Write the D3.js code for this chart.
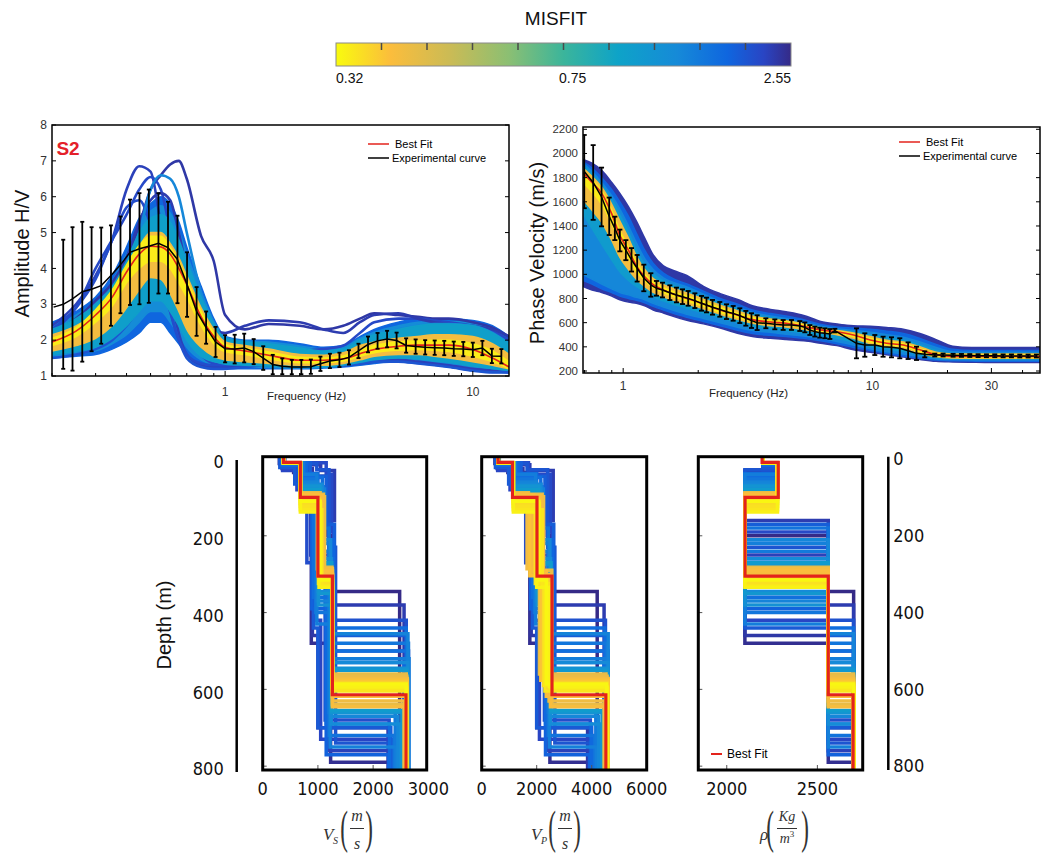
<!DOCTYPE html>
<html>
<head>
<meta charset="utf-8">
<script src="https://cdn.jsdelivr.net/npm/d3@7"></script>
<style>
  body { margin: 0; background: #fff; }
  svg { display: block; font-family: 'Liberation Sans', Arial, sans-serif; }
  .narrow { font-family: 'Liberation Sans Narrow', 'DejaVu Sans Condensed', 'Liberation Sans', sans-serif; }
  .math { font-family: 'Liberation Serif', 'DejaVu Serif', serif; }
</style>
</head>
<body>
<svg id="chart" width="1048" height="861"></svg>
<script>
// ---------------- colour bar ----------------
// misfit position along the colour bar, 0 = best (yellow) .. 1 = worst (dark blue)
const misfitStops = [0, 0.12, 0.25, 0.38, 0.5, 0.62, 0.75, 0.86, 0.94, 1];
const misfitColors = ['#f9fb0e', '#fbbd3c', '#cbbb55', '#8bbf73', '#3bb59b',
  '#0ea3c8', '#168ad8', '#0f66df', '#2945c4', '#352a87'];
const colorbarLabels = ['0.32', '0.75', '2.55'];
const colorbarLabelPos = [0, 0.52, 1];

// ---------------- H/V curve ----------------
const hvExpFreq = [0.203, 0.222, 0.242, 0.265, 0.289, 0.316, 0.346, 0.378, 0.413, 0.451,
  0.492, 0.538, 0.588, 0.642, 0.702, 0.767, 0.838, 0.915, 1.0, 1.093,
  1.194, 1.304, 1.425, 1.557, 1.701, 1.859, 2.031, 2.219, 2.425, 2.649,
  2.894, 3.162, 3.455, 3.775, 4.125, 4.507, 4.924, 5.380, 5.878, 6.422,
  7.017, 7.667, 8.377, 9.153, 10.0, 10.93, 11.94, 13.04];
const hvExpMean = [2.92, 3.0, 3.15, 3.35, 3.42, 3.52, 3.8, 4.1, 4.45, 4.55,
  4.62, 4.7, 4.58, 4.25, 3.55, 2.8, 2.35, 1.95, 1.76, 1.75,
  1.78, 1.68, 1.5, 1.32, 1.27, 1.25, 1.25, 1.26, 1.34, 1.42,
  1.45, 1.52, 1.7, 1.88, 1.98, 2.03, 1.99, 1.85, 1.82, 1.8,
  1.79, 1.78, 1.76, 1.75, 1.73, 1.78, 1.56, 1.55];
const hvExpStd = [0, 1.8, 2.0, 1.95, 1.73, 1.62, 1.4, 1.35, 1.47, 1.55,
  1.58, 1.4, 1.28, 1.22, 0.9, 0.68, 0.45, 0.42, 0.38, 0.4,
  0.4, 0.35, 0.33, 0.27, 0.22, 0.2, 0.2, 0.2, 0.2, 0.2,
  0.2, 0.2, 0.2, 0.22, 0.22, 0.23, 0.22, 0.2, 0.2, 0.2,
  0.2, 0.2, 0.2, 0.2, 0.2, 0.2, 0.2, 0.2];

const hvBandFreq = [0.2, 0.25, 0.3, 0.35, 0.4, 0.45, 0.5, 0.55, 0.6, 0.65,
  0.7, 0.8, 0.9, 1.0, 1.2, 1.5, 2, 2.5, 3, 3.5, 4, 5, 6, 7, 8, 10, 12, 14];
const hvBestFit = [1.95, 2.25, 2.7, 3.2, 3.9, 4.4, 4.62, 4.6, 4.4, 4.0,
  3.55, 2.65, 2.1, 1.8, 1.7, 1.58, 1.44, 1.44, 1.48, 1.62, 1.74, 1.83, 1.86, 1.86, 1.86, 1.74, 1.5, 1.25];
const hvBandMisfit = [0.86, 0.74, 0.64, 0.14, 0.03];
const hvBandUpper = [
  [2.5, 2.8, 3.2, 3.8, 4.6, 5.4, 5.8, 6.0, 5.8, 5.3, 4.6, 3.5, 2.6, 2.1, 2.0, 2.0, 1.9, 1.8, 1.85, 2.1, 2.3, 2.5, 2.6, 2.6, 2.6, 2.55, 2.4, 2.1],
  [2.4, 2.7, 3.1, 3.65, 4.4, 5.2, 5.6, 5.75, 5.55, 5.05, 4.4, 3.35, 2.52, 2.08, 1.98, 1.95, 1.84, 1.75, 1.8, 2.05, 2.22, 2.4, 2.5, 2.52, 2.52, 2.48, 2.3, 2.0],
  [2.3, 2.6, 3.0, 3.5, 4.2, 5.0, 5.4, 5.5, 5.3, 4.8, 4.2, 3.2, 2.45, 2.05, 1.95, 1.9, 1.78, 1.7, 1.75, 2.0, 2.15, 2.3, 2.4, 2.45, 2.45, 2.4, 2.2, 1.9],
  [2.15, 2.4, 2.75, 3.2, 3.9, 4.6, 5.0, 5.0, 4.7, 4.3, 3.8, 2.9, 2.3, 1.95, 1.85, 1.75, 1.6, 1.58, 1.65, 1.85, 1.95, 2.05, 2.1, 2.15, 2.15, 2.1, 1.9, 1.6],
  [2.05, 2.35, 2.85, 3.4, 4.1, 4.65, 4.9, 4.9, 4.6, 4.2, 3.7, 2.8, 2.2, 1.88, 1.78, 1.67, 1.52, 1.5, 1.56, 1.72, 1.85, 1.95, 1.98, 2.0, 2.0, 1.9, 1.7, 1.4]
];
const hvBandLower = [
  [1.5, 1.55, 1.6, 1.75, 1.95, 2.2, 2.5, 2.5, 2.2, 1.9, 1.6, 1.35, 1.25, 1.2, 1.2, 1.2, 1.2, 1.22, 1.25, 1.3, 1.35, 1.4, 1.35, 1.3, 1.25, 1.15, 1.1, 1.1],
  [1.55, 1.62, 1.7, 1.9, 2.15, 2.5, 2.8, 2.8, 2.5, 2.15, 1.8, 1.45, 1.32, 1.27, 1.25, 1.24, 1.22, 1.24, 1.28, 1.34, 1.4, 1.45, 1.42, 1.36, 1.32, 1.22, 1.15, 1.12],
  [1.6, 1.7, 1.8, 2.05, 2.4, 2.8, 3.1, 3.1, 2.8, 2.4, 2.0, 1.55, 1.4, 1.33, 1.3, 1.28, 1.25, 1.26, 1.3, 1.38, 1.45, 1.5, 1.48, 1.42, 1.38, 1.28, 1.2, 1.15],
  [1.7, 1.85, 2.05, 2.4, 2.9, 3.4, 3.75, 3.7, 3.3, 2.8, 2.3, 1.8, 1.55, 1.45, 1.4, 1.35, 1.3, 1.3, 1.35, 1.45, 1.55, 1.6, 1.6, 1.55, 1.5, 1.4, 1.3, 1.2],
  [1.85, 2.1, 2.5, 2.95, 3.6, 4.0, 4.2, 4.2, 4.0, 3.6, 3.2, 2.4, 1.9, 1.68, 1.6, 1.48, 1.37, 1.37, 1.42, 1.55, 1.65, 1.72, 1.74, 1.72, 1.68, 1.55, 1.4, 1.2]
];
// single high-misfit models that stick out of the band
const hvOutlierMisfit = [0.97, 0.95, 0.93, 0.9, 0.96, 0.92, 0.76];
const hvOutliers = [
  [2.2, 2.6, 3.1, 3.6, 4.3, 5.2, 6.2, 6.6, 6.9, 7.0, 6.5, 4.9, 4.2, 2.7, 2.3, 2.45, 2.4, 2.3, 2.4, 2.6, 2.75, 2.7, 2.65, 2.6, 2.6, 2.5, 2.35, 2.1],
  [2.4, 3.0, 3.8, 4.8, 6.2, 6.85, 6.7, 5.2, 3.4, 2.2, 1.6, 1.3, 1.25, 1.25, 1.3, 1.35, 1.35, 1.3, 1.3, 1.35, 1.4, 1.45, 1.4, 1.35, 1.3, 1.2, 1.15, 1.1],
  [2.3, 2.9, 4.0, 4.8, 5.5, 6.2, 6.55, 6.2, 5.0, 3.6, 2.6, 1.6, 1.35, 1.3, 1.4, 1.6, 1.7, 1.75, 1.85, 2.2, 2.5, 2.6, 2.6, 2.55, 2.5, 2.4, 2.25, 2.0],
  [1.5, 1.6, 1.75, 2.0, 2.4, 2.9, 3.3, 3.4, 2.8, 2.0, 1.5, 1.25, 1.2, 1.2, 1.25, 1.3, 1.3, 1.3, 1.3, 1.35, 1.4, 1.4, 1.35, 1.3, 1.25, 1.15, 1.1, 1.1],
  [2.0, 2.4, 2.9, 3.5, 4.3, 5.3, 5.9, 6.1, 5.9, 5.0, 4.0, 2.9, 2.3, 2.2, 2.4, 2.55, 2.5, 2.3, 2.2, 2.5, 2.7, 2.75, 2.6, 2.5, 2.45, 2.4, 2.3, 2.1],
  [2.3, 2.9, 3.7, 4.8, 5.7, 5.9, 5.2, 4.0, 2.8, 2.0, 1.6, 1.35, 1.3, 1.3, 1.35, 1.4, 1.45, 1.5, 1.55, 1.6, 1.7, 1.8, 1.8, 1.7, 1.6, 1.4, 1.25, 1.15],
  [2.0, 2.3, 2.7, 3.3, 4.0, 5.0, 6.2, 6.6, 6.5, 6.0, 5.0, 3.3, 2.2, 1.8, 1.7, 1.7, 1.6, 1.5, 1.6, 1.9, 2.1, 2.3, 2.4, 2.45, 2.45, 2.4, 2.2, 1.9]
];

// ---------------- dispersion curve ----------------
const dcExpFreq = [0.698, 0.758, 0.819, 0.879, 0.926, 0.970, 1.025, 1.080, 1.138, 1.210,
  1.291, 1.360, 1.438, 1.539, 1.636, 1.730, 1.823, 1.939, 2.062, 2.159,
  2.282, 2.441, 2.597, 2.762, 2.937, 3.105, 3.271, 3.447, 3.735, 4.058,
  4.383, 4.733, 5.112, 5.354, 5.608, 5.872, 6.149, 6.440, 6.744, 7.063,
  8.627, 9.318, 10.22, 11.03, 11.92, 12.87, 13.90, 15.02, 16.21, 17.78,
  19.20, 21.06, 22.75, 24.57, 26.53, 28.66, 30.95, 33.43, 36.10, 38.99, 42.11, 45.48];
const dcExpMean = [1850, 1760, 1640, 1480, 1380, 1280, 1200, 1120, 1050, 970,
  912, 884, 870, 848, 829, 815, 801, 782, 760, 746,
  727, 710, 691, 677, 658, 636, 617, 600, 595, 586,
  581, 581, 572, 561, 539, 526, 517, 512, 506, 534,
  429, 415, 415, 401, 396, 388, 368, 346, 338, 332,
  332, 330, 329, 328, 327, 326, 326, 325, 325, 324, 324, 324];
const dcExpStd = [303, 309, 243, 155, 97, 90, 83, 97, 110, 110,
  97, 61, 61, 61, 61, 61, 61, 61, 61, 61,
  61, 61, 61, 61, 61, 61, 61, 61, 41, 41,
  41, 41, 41, 41, 41, 41, 41, 41, 41, 15,
  124, 97, 83, 83, 83, 83, 69, 55, 25, 12,
  12, 12, 12, 12, 12, 12, 12, 12, 12, 12, 12, 12];

const dcBandFreq = [0.69, 0.75, 0.82, 0.9, 0.97, 1.05, 1.13, 1.22, 1.32, 1.45,
  1.6, 1.8, 2.1, 2.45, 2.9, 3.3, 3.9, 4.5, 5.3, 6.2,
  7.2, 8.4, 9.8, 11.4, 13.3, 15.5, 18, 21, 25, 30, 38, 47];
const dcBestFit = [1840, 1760, 1670, 1500, 1320, 1200, 1070, 980, 915, 870,
  835, 800, 755, 705, 660, 625, 605, 595, 570, 540,
  525, 498, 457, 430, 415, 375, 335, 320, 320, 320, 320, 320];
const dcBandMisfit = [0.97, 0.86, 0.76, 0.66, 0.14, 0.03];
const dcBandUpper = [
  [1950, 1920, 1860, 1760, 1670, 1560, 1440, 1300, 1160, 1070, 1030, 990, 900, 840, 790, 740, 710, 690, 660, 610, 590, 575, 570, 560, 545, 510, 460, 405, 395, 395, 395, 395],
  [1930, 1880, 1800, 1700, 1600, 1480, 1340, 1200, 1090, 1010, 960, 920, 860, 800, 750, 705, 675, 655, 625, 585, 565, 555, 545, 530, 510, 470, 420, 380, 370, 370, 370, 370],
  [1920, 1850, 1760, 1650, 1540, 1400, 1260, 1130, 1040, 970, 930, 895, 835, 775, 725, 685, 655, 635, 605, 570, 550, 535, 520, 500, 480, 440, 395, 360, 355, 355, 355, 355],
  [1900, 1830, 1740, 1620, 1490, 1350, 1200, 1080, 1000, 945, 905, 870, 815, 760, 710, 670, 640, 620, 595, 560, 540, 522, 500, 475, 455, 415, 370, 345, 345, 345, 345, 345],
  [1880, 1810, 1720, 1580, 1440, 1300, 1150, 1040, 965, 915, 880, 845, 795, 745, 695, 655, 630, 615, 590, 555, 535, 515, 485, 455, 440, 400, 355, 340, 340, 340, 340, 340],
  [1860, 1780, 1690, 1530, 1360, 1230, 1100, 1000, 935, 890, 855, 820, 775, 725, 675, 640, 620, 607, 580, 548, 530, 505, 470, 442, 425, 385, 345, 330, 330, 330, 330, 330]
];
const dcBandLower = [
  [900, 870, 850, 820, 790, 770, 760, 740, 705, 680, 650, 620, 590, 555, 510, 485, 470, 460, 450, 430, 410, 375, 355, 335, 315, 295, 280, 275, 272, 270, 270, 270],
  [950, 920, 880, 850, 820, 800, 785, 765, 735, 705, 675, 645, 610, 575, 535, 510, 495, 485, 470, 450, 425, 395, 370, 345, 325, 305, 290, 285, 282, 280, 280, 280],
  [1000, 960, 920, 880, 850, 830, 810, 790, 760, 730, 700, 670, 635, 600, 560, 535, 520, 505, 490, 470, 445, 415, 385, 360, 340, 318, 300, 295, 292, 290, 290, 290],
  [1500, 1380, 1250, 1120, 1020, 950, 900, 860, 815, 780, 750, 720, 680, 640, 600, 570, 550, 535, 515, 495, 470, 440, 405, 385, 365, 335, 310, 300, 300, 300, 300, 300],
  [1620, 1530, 1430, 1280, 1140, 1040, 960, 900, 850, 815, 785, 755, 715, 670, 625, 595, 575, 565, 545, 520, 500, 470, 425, 405, 390, 350, 318, 308, 305, 305, 305, 305],
  [1760, 1680, 1580, 1420, 1260, 1140, 1020, 950, 890, 850, 815, 780, 735, 685, 642, 610, 590, 582, 558, 530, 512, 485, 440, 418, 402, 362, 328, 315, 312, 312, 312, 312]
];

// ---------------- layered models (worst first) ----------------
const modelMisfit = [1.00, 0.99, 0.97, 0.96, 0.95, 0.94, 0.93, 0.92, 0.91, 0.90, 0.89, 0.88, 0.87, 0.86, 0.85, 0.84,
  0.83, 0.82, 0.81, 0.80, 0.79, 0.78, 0.77, 0.76,
  0.75, 0.74, 0.72, 0.70, 0.68, 0.66,
  0.18, 0.17, 0.16, 0.15, 0.14, 0.13, 0.12, 0.11,
  0.08, 0.06, 0.05, 0.04, 0.02, 0.01];
// interface depths (m)
const modelDepths = [
  [20, 45, 200, 345], [12, 35, 480, 790], [25, 60, 460, 700], [15, 30, 160, 380],
  [10, 50, 250, 760], [30, 80, 420, 730], [10, 40, 190, 500], [18, 70, 270, 680],
  [10, 55, 350, 420], [12, 28, 230, 740], [22, 65, 440, 700], [10, 45, 170, 460],
  [14, 75, 390, 770], [10, 38, 210, 530], [16, 58, 300, 690], [10, 48, 260, 440],
  [12, 62, 360, 500], [10, 72, 180, 720], [10, 52, 400, 480], [11, 68, 240, 660],
  [10, 40, 430, 520], [12, 78, 220, 750], [10, 60, 370, 455], [10, 66, 210, 670],
  [10, 80, 345, 530], [10, 76, 260, 690], [10, 82, 380, 545], [10, 70, 275, 660],
  [10, 84, 350, 550], [10, 80, 270, 655],
  [10, 88, 282, 560], [10, 92, 290, 640], [10, 95, 296, 566], [9, 98, 300, 630],
  [10, 90, 286, 572], [10, 96, 302, 645], [10, 94, 292, 618], [10, 100, 304, 576],
  [10, 104, 312, 582], [10, 116, 318, 590], [10, 124, 324, 598], [10, 132, 330, 604],
  [10, 138, 334, 594], [10, 110, 315, 586]
];
const modelVs = [
  [330, 820, 1180, 1230, 2480], [300, 560, 880, 1230, 2300], [350, 900, 900, 1000, 2270], [320, 1050, 1300, 1200, 2560],
  [400, 700, 870, 1200, 2300], [360, 620, 950, 1050, 2340], [380, 1150, 1250, 1280, 2640], [340, 640, 800, 1130, 2290],
  [370, 750, 900, 1300, 2600], [350, 980, 1200, 1320, 2350], [310, 580, 920, 1000, 2320], [390, 860, 1150, 1300, 2620],
  [360, 660, 890, 1150, 2280], [380, 800, 1000, 1280, 2560], [350, 700, 950, 1150, 2300], [370, 760, 1080, 1270, 2600],
  [360, 680, 920, 1240, 2620], [380, 720, 1100, 1200, 2380], [370, 700, 960, 1270, 2640], [365, 690, 1050, 1200, 2400],
  [375, 730, 980, 1250, 2650], [370, 670, 1120, 1220, 2420], [380, 700, 990, 1260, 2630], [372, 690, 1080, 1230, 2450],
  [375, 700, 1000, 1260, 2630], [378, 690, 1060, 1240, 2500], [376, 695, 1010, 1255, 2620], [377, 685, 1040, 1245, 2520],
  [377, 688, 1020, 1258, 2610], [377, 686, 1030, 1250, 2540],
  [378, 684, 1040, 1255, 2600], [377, 680, 1100, 1262, 2560], [377, 682, 1060, 1260, 2610], [376, 682, 1120, 1265, 2570],
  [377, 683, 990, 1262, 2620], [377, 682, 1080, 1262, 2580], [377, 682, 1040, 1262, 2600], [377, 682, 1000, 1262, 2620],
  [377, 682, 1030, 1262, 2605], [377, 682, 1050, 1262, 2600], [377, 682, 1010, 1262, 2610], [377, 682, 1070, 1262, 2600],
  [377, 682, 1020, 1262, 2605], [377, 682, 1040, 1262, 2600]
];
const modelVp = [
  [530, 1380, 2380, 2480, 4200], [480, 950, 1750, 2480, 3900], [560, 1500, 1800, 2000, 3850], [520, 1750, 2600, 2450, 4450],
  [640, 1150, 1750, 2420, 3950], [580, 1030, 1900, 2100, 4000], [610, 1700, 2500, 2580, 4600], [540, 1060, 1600, 2280, 3950],
  [590, 1250, 1800, 2620, 4500], [560, 1650, 2400, 2660, 4050], [500, 980, 1850, 2000, 4000], [620, 1430, 2300, 2620, 4550],
  [575, 1100, 1780, 2320, 3920], [610, 1330, 2000, 2580, 4450], [560, 1170, 1900, 2320, 3980], [590, 1270, 2150, 2560, 4480],
  [575, 1130, 1850, 2500, 4520], [610, 1200, 2200, 2420, 4100], [590, 1170, 1920, 2560, 4550], [585, 1150, 2100, 2420, 4150],
  [600, 1220, 1960, 2520, 4600], [590, 1120, 2240, 2460, 4180], [605, 1170, 1980, 2540, 4600], [595, 1150, 2160, 2480, 4250],
  [600, 1160, 2000, 2540, 4600], [605, 1150, 2120, 2500, 4350], [602, 1160, 2020, 2530, 4580], [603, 1140, 2080, 2510, 4380],
  [603, 1145, 2040, 2540, 4560], [603, 1142, 2060, 2520, 4420],
  [604, 1145, 1700, 2100, 4520], [603, 1140, 2200, 2550, 4450], [604, 1148, 1800, 2300, 4560], [602, 1150, 2250, 2450, 4480],
  [604, 1148, 1650, 2200, 4600], [604, 1150, 2150, 2500, 4500], [604, 1150, 1900, 2350, 4550], [604, 1150, 1750, 2150, 4600],
  [604, 1150, 2050, 2400, 4560], [604, 1150, 2100, 2250, 4540], [604, 1150, 1950, 2500, 4580], [604, 1150, 2200, 2300, 4520],
  [604, 1150, 2000, 2450, 4560], [604, 1150, 2080, 2350, 4540]
];
// density is the same per layer for every model
const modelRhoLayers = [2200, 2280, 2100, 2560, 2700];

const bestDepths = [9, 100, 305, 614];
const bestVs = [377, 682, 1000, 1262, 2595];
const bestVp = [593, 1120, 2010, 2556, 4515];
const bestRho = [2195, 2284, 2101, 2560, 2697];
const depthTicks = [0, 200, 400, 600, 800];

// ---------------- drawing ----------------
const svg = d3.select('#chart');
const defs = svg.append('defs');
const misfitColor = d3.scaleLinear().domain(misfitStops).range(misfitColors);
const bestRed = '#e3231c';

const addClip = (id, box) =>
  defs.append('clipPath').attr('id', id).append('rect')
    .attr('x', box.left).attr('y', box.top)
    .attr('width', box.right - box.left).attr('height', box.bottom - box.top);

// colour bar
const cb = { left: 336, right: 791, top: 43, bottom: 66 };
const grad = defs.append('linearGradient').attr('id', 'misfit-grad');
misfitStops.forEach((s, i) =>
  grad.append('stop').attr('offset', s).attr('stop-color', misfitColors[i]));
svg.append('text').attr('x', 556).attr('y', 25).attr('text-anchor', 'middle')
  .style('font-size', '19px').attr('fill', '#111').text('MISFIT');
svg.append('rect')
  .attr('x', cb.left).attr('y', cb.top)
  .attr('width', cb.right - cb.left).attr('height', cb.bottom - cb.top)
  .attr('fill', 'url(#misfit-grad)').attr('stroke', '#8a8a8a').attr('stroke-width', 1);
const cbX = d3.scaleLinear().domain([0, 1]).range([cb.left, cb.right]);
d3.range(1, 10).forEach(i =>
  svg.append('line')
    .attr('x1', cbX(i / 10)).attr('x2', cbX(i / 10))
    .attr('y1', cb.top).attr('y2', cb.top + 7)
    .attr('stroke', '#4a4a4a').attr('stroke-width', 1.5));
colorbarLabels.forEach((l, i) =>
  svg.append('text')
    .attr('x', cbX(colorbarLabelPos[i])).attr('y', 83)
    .attr('text-anchor', i === 0 ? 'start' : i === 2 ? 'end' : 'middle')
    .style('font-size', '14px').attr('fill', '#111').text(l));

const drawCurvePanel = p => {
  const { box, x, y } = p;
  addClip(p.id, box);
  const plot = svg.append('g').attr('clip-path', `url(#${p.id})`);

  const area = d3.area()
    .x((d, i) => x(p.bandFreq[i]))
    .y0(d => y(d[0]))
    .y1(d => y(d[1]))
    .curve(d3.curveMonotoneX);
  const curve = d3.line()
    .x((d, i) => x(p.bandFreq[i]))
    .y(d => y(d))
    .curve(d3.curveMonotoneX);
  const band = k =>
    plot.append('path')
      .datum(d3.zip(p.bandLower[k], p.bandUpper[k]))
      .attr('d', area)
      .attr('fill', misfitColor(p.bandMisfit[k]))
      .attr('stroke', misfitColor(p.bandMisfit[k]))
      .attr('stroke-width', 1.5);

  // worst models first so the best ones end up on top
  p.bandMisfit.forEach((m, k) => { if (m >= 0.7) band(k); });
  p.outliers.forEach((o, k) =>
    plot.append('path').datum(o).attr('d', curve)
      .attr('fill', 'none')
      .attr('stroke', misfitColor(p.outlierMisfit[k]))
      .attr('stroke-width', 2.6));
  p.bandMisfit.forEach((m, k) => { if (m < 0.7) band(k); });

  plot.append('path').datum(p.best).attr('d', curve)
    .attr('fill', 'none').attr('stroke', bestRed).attr('stroke-width', 1.6);

  // experimental curve with error bars
  const expLine = d3.line().x((d, i) => x(p.expFreq[i])).y(d => y(d));
  plot.append('path').datum(p.expMean).attr('d', expLine)
    .attr('fill', 'none').attr('stroke', '#000').attr('stroke-width', 1.5);
  const bars = plot.append('g').attr('stroke', '#000').attr('stroke-width', 1.8);
  p.expMean.forEach((m, i) => {
    const s = p.expStd[i];
    if (!s) return;
    const cx = x(p.expFreq[i]);
    bars.append('line').attr('x1', cx).attr('x2', cx).attr('y1', y(m - s)).attr('y2', y(m + s));
    [m - s, m + s].forEach(v =>
      bars.append('line')
        .attr('x1', cx - p.cap).attr('x2', cx + p.cap)
        .attr('y1', y(v)).attr('y2', y(v)));
  });

  // axes
  const axis = svg.append('g').attr('fill', '#333');
  x.ticks().forEach(t => {
    const major = p.xLabels.some(l => Math.abs(l - t) < 1e-6);
    axis.append('line')
      .attr('x1', x(t)).attr('x2', x(t))
      .attr('y1', box.bottom).attr('y2', box.bottom - (major ? 5 : 3))
      .attr('stroke', '#000');
  });
  p.xLabels.forEach(l =>
    axis.append('text')
      .attr('x', x(l)).attr('y', box.bottom + p.xLabelDy)
      .attr('text-anchor', 'middle').style('font-size', '12px').text(l));
  p.yTicks.forEach(t => {
    [[box.left, 4], [box.right, -4]].forEach(([ex, len]) =>
      axis.append('line')
        .attr('x1', ex).attr('x2', ex + len)
        .attr('y1', y(t)).attr('y2', y(t)).attr('stroke', '#000'));
    axis.append('text')
      .attr('x', box.left - 5).attr('y', y(t)).attr('dy', '0.35em')
      .attr('text-anchor', 'end').style('font-size', p.yFont).text(t);
  });
  svg.append('rect')
    .attr('x', box.left).attr('y', box.top)
    .attr('width', box.right - box.left).attr('height', box.bottom - box.top)
    .attr('fill', 'none').attr('stroke', '#000').attr('stroke-width', 1.5);

  svg.append('text')
    .attr('x', (box.left + box.right) / 2 + p.xTitleDx).attr('y', box.bottom + p.xTitleDy)
    .attr('text-anchor', 'middle').style('font-size', '11.5px').attr('fill', '#222')
    .text('Frequency (Hz)');
  svg.append('text')
    .attr('transform', `translate(${p.yTitleX},${(box.top + box.bottom) / 2 + 3}) rotate(-90)`)
    .attr('text-anchor', 'middle').attr('dy', '0.35em')
    .style('font-size', '20px').attr('fill', '#111').text(p.yTitle);

  // legend
  const lg = svg.append('g').attr('transform', `translate(${p.legend[0]},${p.legend[1]})`);
  lg.append('line').attr('x1', 0).attr('x2', 21).attr('y1', 0).attr('y2', 0)
    .attr('stroke', bestRed).attr('stroke-width', 1.5);
  lg.append('text').attr('x', 27).attr('y', 4).style('font-size', '11px').text('Best Fit');
  lg.append('line').attr('x1', 0).attr('x2', 21).attr('y1', 14).attr('y2', 14)
    .attr('stroke', '#000').attr('stroke-width', 1.5);
  lg.append('text').attr('x', 24).attr('y', 18).style('font-size', '11px').text('Experimental curve');
};

// H/V panel
const hvBox = { left: 52, right: 509, top: 125, bottom: 376 };
drawCurvePanel({
  id: 'clip-hv',
  box: hvBox,
  x: d3.scaleLog().domain([0.2, 14]).range([hvBox.left, hvBox.right]),
  y: d3.scaleLinear().domain([1, 8]).range([hvBox.bottom, hvBox.top]),
  bandFreq: hvBandFreq, bandMisfit: hvBandMisfit, bandUpper: hvBandUpper, bandLower: hvBandLower,
  outliers: hvOutliers, outlierMisfit: hvOutlierMisfit, best: hvBestFit,
  expFreq: hvExpFreq, expMean: hvExpMean, expStd: hvExpStd, cap: 2,
  xLabels: [1, 10], xLabelDy: 20, yTicks: [1, 2, 3, 4, 5, 6, 7, 8], yFont: '12px',
  xTitleDx: 26, xTitleDy: 24,
  yTitle: 'Amplitude H/V', yTitleX: 22, legend: [368, 144]
});
svg.append('text').attr('x', 68).attr('y', 155).attr('text-anchor', 'middle')
  .style('font-size', '19px').style('font-weight', 'bold').attr('fill', '#e4202a').text('S2');

// dispersion panel
const dcBox = { left: 583, right: 1040, top: 127, bottom: 373 };
drawCurvePanel({
  id: 'clip-dc',
  box: dcBox,
  x: d3.scaleLog().domain([0.69, 47]).range([dcBox.left, dcBox.right]),
  y: d3.scaleLinear().domain([200, 2200]).range([371, 129.3]),
  bandFreq: dcBandFreq, bandMisfit: dcBandMisfit, bandUpper: dcBandUpper, bandLower: dcBandLower,
  outliers: [], outlierMisfit: [], best: dcBestFit,
  expFreq: dcExpFreq, expMean: dcExpMean, expStd: dcExpStd, cap: 2.5,
  xLabels: [1, 10, 30], xLabelDy: 17, yTicks: d3.range(200, 2201, 200), yFont: '11.5px',
  xTitleDx: -63, xTitleDy: 24,
  yTitle: 'Phase Velocity (m/s)', yTitleX: 537, legend: [899, 142]
});

// ---------------- profiles ----------------
const yDepth = d3.scaleLinear().domain([-6, 810]).range([456.7, 770]);

const stepPoints = (depths, vals) => {
  const pts = [[vals[0], -6]];
  depths.forEach((z, i) => { pts.push([vals[i], z]); pts.push([vals[i + 1], z]); });
  pts.push([vals[vals.length - 1], 810]);
  return pts;
};

const drawProfilePanel = p => {
  const { box, x } = p;
  addClip(p.id, box);
  const plot = svg.append('g').attr('clip-path', `url(#${p.id})`);
  const step = d3.line().x(d => x(d[0])).y(d => yDepth(d[1]));

  modelMisfit.forEach((m, i) =>
    plot.append('path')
      .datum(stepPoints(modelDepths[i], p.values(i)))
      .attr('d', step)
      .attr('fill', 'none')
      .attr('stroke', misfitColor(m))
      .attr('stroke-width', 3.5));
  plot.append('path')
    .datum(stepPoints(bestDepths, p.best))
    .attr('d', step)
    .attr('fill', 'none').attr('stroke', bestRed).attr('stroke-width', 3.2);

  // inner ticks
  depthTicks.slice(1).forEach(d =>
    svg.append('line')
      .attr('x1', box.left).attr('x2', box.left + 4)
      .attr('y1', yDepth(d)).attr('y2', yDepth(d)).attr('stroke', '#555'));
  p.ticks.forEach(t => {
    if (x(t) > box.left + 2 && x(t) < box.right - 2) {
      svg.append('line')
        .attr('x1', x(t)).attr('x2', x(t))
        .attr('y1', box.bottom).attr('y2', box.bottom - 5).attr('stroke', '#555');
    }
    svg.append('text').attr('class', 'narrow')
      .attr('x', x(t)).attr('y', 795)
      .attr('text-anchor', 'middle').style('font-size', '18px').attr('fill', '#111')
      .text(t);
  });
  svg.append('rect')
    .attr('x', box.left).attr('y', box.top)
    .attr('width', box.right - box.left).attr('height', box.bottom - box.top)
    .attr('fill', 'none').attr('stroke', '#000').attr('stroke-width', 3);
};

drawProfilePanel({
  id: 'clip-vs', box: { left: 262.7, right: 426.7, top: 456.7, bottom: 770 },
  x: d3.scaleLinear().domain([0, 2970]).range([262.7, 426.7]),
  values: i => modelVs[i], best: bestVs, ticks: [0, 1000, 2000, 3000]
});
drawProfilePanel({
  id: 'clip-vp', box: { left: 481.7, right: 646.7, top: 456.7, bottom: 770 },
  x: d3.scaleLinear().domain([0, 6000]).range([481.7, 646.7]),
  values: i => modelVp[i], best: bestVp, ticks: [0, 2000, 4000, 6000]
});
drawProfilePanel({
  id: 'clip-rho', box: { left: 698.3, right: 862.7, top: 456.7, bottom: 770 },
  x: d3.scaleLinear().domain([1843, 2750]).range([698.3, 862.7]),
  values: () => modelRhoLayers, best: bestRho, ticks: [2000, 2500]
});

// rho legend
svg.append('line').attr('x1', 711).attr('x2', 722).attr('y1', 754).attr('y2', 754)
  .attr('stroke', bestRed).attr('stroke-width', 2);
svg.append('text').attr('x', 727).attr('y', 758).style('font-size', '12px').text('Best Fit');

// depth axes
[[236.7, 460, 772, 'end', -13, 3], [888.3, 456.7, 770, 'start', 5, 0]].forEach(([ax, y1, y2, anchor, dx, dy]) => {
  svg.append('line').attr('x1', ax).attr('x2', ax).attr('y1', y1).attr('y2', y2)
    .attr('stroke', '#000').attr('stroke-width', 2.5);
  depthTicks.forEach(d =>
    svg.append('text').attr('class', 'narrow')
      .attr('x', ax + dx).attr('y', yDepth(d) + dy).attr('dy', '0.35em')
      .attr('text-anchor', anchor).style('font-size', '18px').attr('fill', '#111')
      .text(d));
});
svg.append('text')
  .attr('transform', 'translate(164,625) rotate(-90)')
  .attr('text-anchor', 'middle').attr('dy', '0.35em')
  .style('font-size', '20px').attr('fill', '#111').text('Depth (m)');

// unit labels written as fractions
const mathLabel = (x0, sym, sub, num, den, denSup) => {
  const g = svg.append('g').attr('class', 'math').attr('fill', '#333');
  g.append('text').attr('x', x0).attr('y', 840).style('font-style', 'italic')
    .style('font-size', '17px').text(sym);
  if (sub) {
    g.append('text').attr('x', x0 + 10).attr('y', 844).style('font-style', 'italic')
      .style('font-size', '10px').text(sub);
  }
  const px = x0 + (sub ? 21 : 10);
  const fx = px + (sub ? 13 : 17);
  const fw = sub ? 7 : 10;
  g.append('text').attr('transform', `translate(${px},843) scale(0.5,1)`)
    .attr('text-anchor', 'middle').style('font-size', '46px').text('(');
  g.append('text').attr('x', fx).attr('y', 821).attr('text-anchor', 'middle')
    .style('font-style', 'italic').style('font-size', sub ? '16px' : '14px').text(num);
  g.append('line').attr('x1', fx - fw).attr('x2', fx + fw).attr('y1', 828.5).attr('y2', 828.5)
    .attr('stroke', '#333').attr('stroke-width', 1);
  const dt = g.append('text').attr('x', fx).attr('y', sub ? 849 : 843).attr('text-anchor', 'middle')
    .style('font-style', 'italic').style('font-size', sub ? '16px' : '14px').text(den);
  if (denSup) dt.append('tspan').attr('dy', -6).style('font-size', '9px').style('font-style', 'normal').text(denSup);
  g.append('text').attr('transform', `translate(${fx + (sub ? 12 : 18)},843) scale(0.5,1)`)
    .attr('text-anchor', 'middle').style('font-size', '46px').text(')');
};
mathLabel(323, 'V', 'S', 'm', 's');
mathLabel(531, 'V', 'P', 'm', 's');
mathLabel(760, 'ρ', null, 'Kg', 'm', '3');
</script>
</body>
</html>
